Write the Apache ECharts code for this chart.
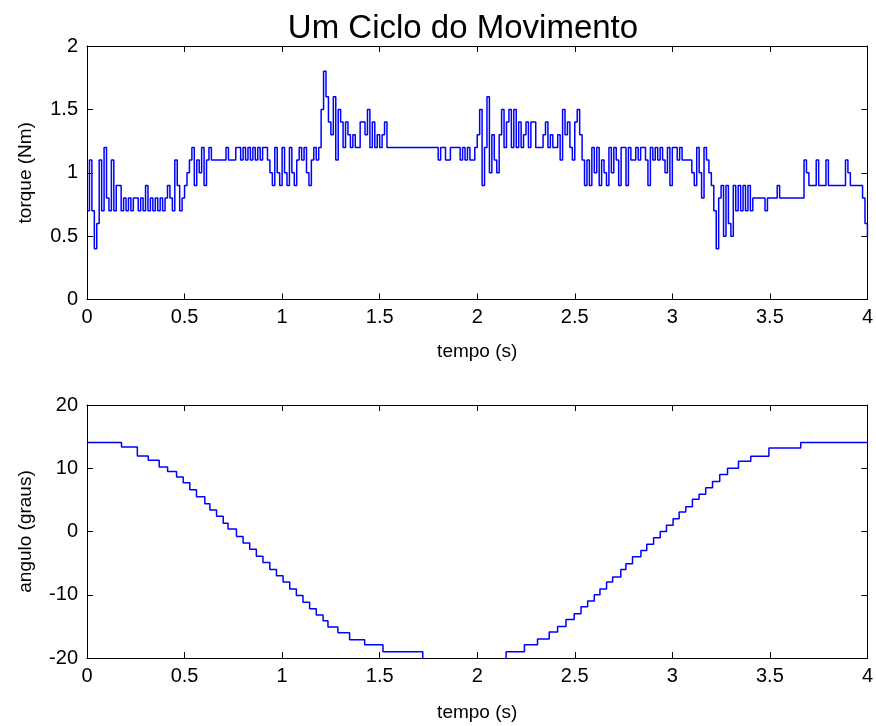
<!DOCTYPE html>
<html>
<head>
<meta charset="utf-8">
<script src="https://cdn.jsdelivr.net/npm/echarts@6/dist/echarts.min.js"></script>
<style>
html,body{margin:0;padding:0;background:#fff;}
#chart{width:876px;height:726px;}
</style>
</head>
<body>
<div id="chart"></div>
<script>
// ---- data ----
var titleText = 'Um Ciclo do Movimento';
var xTickValues = [0, 0.5, 1, 1.5, 2, 2.5, 3, 3.5, 4];
var torqueTicks = [0, 0.5, 1, 1.5, 2];
var angleTicks = [-20, -10, 0, 10, 20];

// torque samples, one every sampleStep seconds from t = 0 to t = 4
var sampleStep = 0.0125;
var torqueValues = [
  0.7, 1.1, 0.7, 0.4, 0.6, 1.1, 0.7, 1.2,
  0.8, 0.7, 1.1, 0.7, 0.9, 0.9, 0.7, 0.8,
  0.7, 0.8, 0.7, 0.8, 0.8, 0.7, 0.8, 0.7,
  0.9, 0.7, 0.8, 0.7, 0.8, 0.7, 0.8, 0.7,
  0.8, 0.9, 0.8, 0.7, 1.1, 0.9, 0.7, 0.8,
  0.9, 1.0, 1.1, 1.2, 0.9, 1.1, 1.0, 1.2,
  0.9, 1.1, 1.2, 1.1, 1.1, 1.1, 1.1, 1.1,
  1.1, 1.2, 1.1, 1.1, 1.1, 1.2, 1.2, 1.1,
  1.2, 1.1, 1.2, 1.1, 1.2, 1.1, 1.2, 1.1,
  1.2, 1.2, 1.1, 1.0, 0.9, 1.2, 1.0, 0.9,
  1.2, 1.0, 0.9, 1.2, 1.0, 0.9, 1.1, 1.2,
  1.1, 1.2, 1.0, 0.9, 1.1, 1.2, 1.1, 1.2,
  1.5, 1.8, 1.6, 1.4, 1.3, 1.6, 1.1, 1.5,
  1.4, 1.2, 1.4, 1.3, 1.2, 1.3, 1.2, 1.2,
  1.4, 1.4, 1.3, 1.5, 1.2, 1.4, 1.2, 1.3,
  1.2, 1.3, 1.4, 1.2, 1.2, 1.2, 1.2, 1.2,
  1.2, 1.2, 1.2, 1.2, 1.2, 1.2, 1.2, 1.2,
  1.2, 1.2, 1.2, 1.2, 1.2, 1.2, 1.2, 1.2,
  1.1, 1.2, 1.2, 1.1, 1.1, 1.2, 1.2, 1.2,
  1.2, 1.1, 1.2, 1.1, 1.2, 1.1, 1.1, 1.2,
  1.3, 1.5, 0.9, 1.2, 1.6, 1.0, 1.3, 1.1,
  1.0, 1.3, 1.5, 1.2, 1.4, 1.5, 1.2, 1.5,
  1.2, 1.4, 1.2, 1.3, 1.4, 1.2, 1.4, 1.4,
  1.2, 1.2, 1.2, 1.3, 1.4, 1.2, 1.3, 1.2,
  1.2, 1.3, 1.1, 1.5, 1.3, 1.4, 1.2, 1.1,
  1.4, 1.5, 1.3, 1.1, 0.9, 1.1, 0.9, 1.2,
  1.0, 1.2, 0.9, 1.1, 1.0, 0.9, 1.2, 1.0,
  1.2, 1.1, 0.9, 1.2, 1.2, 0.9, 1.2, 1.1,
  1.1, 1.2, 1.1, 1.2, 1.2, 1.1, 0.9, 1.2,
  1.1, 1.2, 1.1, 1.2, 1.1, 1.0, 1.2, 0.9,
  1.2, 1.2, 1.1, 1.2, 1.1, 1.1, 1.1, 1.1,
  1.0, 0.9, 1.2, 1.0, 0.8, 1.2, 1.1, 1.0,
  0.9, 0.7, 0.4, 0.8, 0.9, 0.5, 0.9, 0.6,
  0.5, 0.9, 0.7, 0.9, 0.7, 0.9, 0.7, 0.9,
  0.7, 0.8, 0.8, 0.8, 0.8, 0.8, 0.7, 0.8,
  0.8, 0.8, 0.8, 0.9, 0.8, 0.8, 0.8, 0.8,
  0.8, 0.8, 0.8, 0.8, 0.8, 0.8, 1.1, 1.0,
  0.9, 0.9, 0.9, 1.1, 0.9, 0.9, 0.9, 1.1,
  0.9, 0.9, 0.9, 0.9, 0.9, 0.9, 0.9, 1.1,
  1.0, 0.9, 0.9, 0.9, 0.9, 0.9, 0.8, 0.6,
  0.5
];

// angle staircase: time where each level starts, and the level
var angleTimes = [0, 0.177, 0.258, 0.314, 0.370, 0.413, 0.459, 0.493, 0.527, 0.561,
  0.604, 0.630, 0.664, 0.698, 0.723, 0.766, 0.800, 0.834, 0.868, 0.902,
  0.937, 0.971, 1.005, 1.039, 1.073, 1.107, 1.141, 1.175, 1.210, 1.235,
  1.286, 1.346, 1.423, 1.517, 1.721, 2.148, 2.242, 2.309, 2.369, 2.412,
  2.455, 2.497, 2.532, 2.566, 2.600, 2.629, 2.663, 2.694, 2.736, 2.762,
  2.796, 2.839, 2.869, 2.904, 2.938, 2.970, 3.004, 3.035, 3.069, 3.103,
  3.137, 3.171, 3.206, 3.243, 3.283, 3.339, 3.402, 3.495, 3.658, 4.0];
var angleValues = [14.06, 13.36, 11.95, 11.25, 10.2, 9.5, 8.6, 7.7, 6.6, 5.5,
  4.4, 3.4, 2.4, 1.3, 0.4, -0.8, -1.8, -2.8, -3.9, -4.9,
  -6.0, -7.0, -8.0, -9.1, -10.1, -11.2, -12.2, -13.2, -14.1, -15.1,
  -16.0, -17.1, -17.9, -19.0, -20.4, -19.0, -17.9, -17.0, -15.9, -15.0,
  -13.9, -13.0, -11.9, -11.0, -10.0, -9.1, -8.0, -7.2, -6.0, -5.1,
  -4.0, -3.0, -2.0, -1.0, 0.0, 1.0, 2.0, 3.1, 3.9, 5.1,
  5.9, 6.9, 7.9, 9.0, 10.0, 11.1, 11.9, 13.2, 14.06, 14.06];

// ---- build ----
var FONT = '"Liberation Sans", Arial, Helvetica, sans-serif';
var torqueData = torqueValues.map(function (v, i) { return [i * sampleStep, v]; });
var angleData = angleTimes.map(function (t, i) { return [t, angleValues[i]]; });

function tickSet(values) {
  return { min: values[0], max: values[values.length - 1], interval: values[1] - values[0] };
}
var xs = tickSet(xTickValues), ts = tickSet(torqueTicks), as = tickSet(angleTicks);

var lineStyleAxis = { color: '#000', width: 1 };
function mainX(grid, name, gap) {
  return {
    type: 'value', gridIndex: grid, position: 'bottom', min: xs.min, max: xs.max, interval: xs.interval,
    name: name, nameLocation: 'middle', nameGap: gap,
    nameTextStyle: { color: '#000', fontSize: 19, fontFamily: FONT },
    axisLine: { show: true, onZero: false, lineStyle: lineStyleAxis },
    axisTick: { show: true, inside: true, length: 6, lineStyle: lineStyleAxis },
    axisLabel: { show: true, color: '#000', fontSize: 20, fontFamily: FONT, margin: 8 },
    splitLine: { show: false }
  };
}
function topX(grid) {
  return {
    type: 'value', gridIndex: grid, position: 'top', min: xs.min, max: xs.max, interval: xs.interval,
    axisLine: { show: true, onZero: false, lineStyle: lineStyleAxis },
    axisTick: { show: true, inside: true, length: 6, lineStyle: lineStyleAxis },
    axisLabel: { show: false }, splitLine: { show: false }
  };
}
function mainY(grid, set, name) {
  return {
    type: 'value', gridIndex: grid, position: 'left', min: set.min, max: set.max, interval: set.interval,
    name: name, nameLocation: 'middle', nameGap: 52,
    nameTextStyle: { color: '#000', fontSize: 19, fontFamily: FONT },
    axisLine: { show: true, onZero: false, lineStyle: lineStyleAxis },
    axisTick: { show: true, inside: true, length: 6, lineStyle: lineStyleAxis },
    axisLabel: { show: true, color: '#000', fontSize: 20, fontFamily: FONT, margin: 9 },
    splitLine: { show: false }
  };
}
function rightY(grid, set) {
  return {
    type: 'value', gridIndex: grid, position: 'right', min: set.min, max: set.max, interval: set.interval,
    axisLine: { show: true, onZero: false, lineStyle: lineStyleAxis },
    axisTick: { show: true, inside: true, length: 6, lineStyle: lineStyleAxis },
    axisLabel: { show: false }, splitLine: { show: false }
  };
}

var chart = echarts.init(document.getElementById('chart'), null, { renderer: 'canvas' });
chart.setOption({
  backgroundColor: '#fff',
  animation: false,
  title: {
    text: titleText, left: 458, top: 7, textAlign: 'center',
    textStyle: { color: '#000', fontSize: 33, fontWeight: 'normal', fontFamily: FONT }
  },
  grid: [
    { left: 87, top: 46, width: 782, height: 253.5 },
    { left: 87, top: 405, width: 782, height: 253 }
  ],
  xAxis: [mainX(0, 'tempo (s)', 43), topX(0), mainX(1, 'tempo (s)', 45), topX(1)],
  yAxis: [mainY(0, ts, 'torque (Nm)'), rightY(0, ts), mainY(1, as, 'angulo (graus)'), rightY(1, as)],
  series: [
    {
      type: 'line', xAxisIndex: 0, yAxisIndex: 0, data: torqueData, step: 'end',
      showSymbol: false, symbol: 'none', clip: true,
      lineStyle: { color: '#0000ff', width: 1.5 }
    },
    {
      type: 'line', xAxisIndex: 2, yAxisIndex: 2, data: angleData, step: 'end',
      showSymbol: false, symbol: 'none', clip: true,
      lineStyle: { color: '#0000ff', width: 1.5 }
    }
  ]
});
</script>
</body>
</html>
